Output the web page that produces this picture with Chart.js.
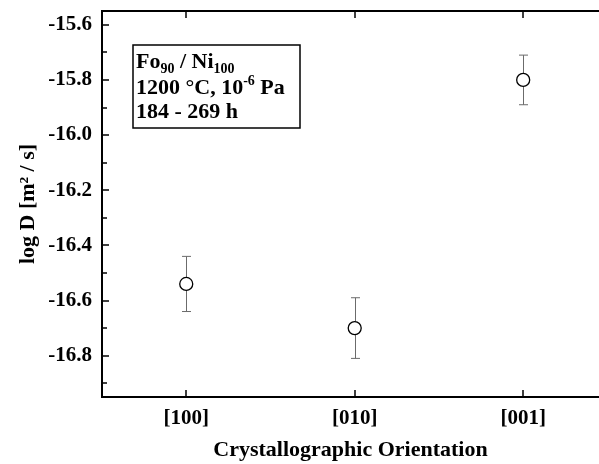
<!DOCTYPE html>
<html>
<head>
<meta charset="utf-8">
<script src="https://cdn.jsdelivr.net/npm/chart.js@4"></script>
<style>
  html, body { margin: 0; padding: 0; background: #fff; overflow: hidden; }
  #wrap { width: 599px; height: 464px; }
</style>
</head>
<body>
<div id="wrap"><canvas id="chart" width="599" height="464"></canvas></div>
<script>
/* data */
const orientations = ["[100]", "[010]", "[001]"];
const logD = [-16.54, -16.70, -15.80];
const logDErr = [0.10, 0.11, 0.09];
const yTicks = [-15.6, -15.8, -16.0, -16.2, -16.4, -16.6, -16.8];
const yMin = -16.95;
const yMax = -15.55;
const xMin = -0.5;
const xMax = 2.45;   // the figure is cut off just right of [001]

const serif = "'Liberation Serif', 'Times New Roman', serif";

/* no automatic label padding: the frame sits where the figure has it */
function noPad(scale) {
  scale.paddingTop = 0;
  scale.paddingBottom = 0;
  scale.paddingLeft = 0;
  scale.paddingRight = 0;
}

/* error bars, drawn through the scales */
const errorBars = {
  id: "errorBars",
  beforeDatasetsDraw(chart) {
    const { ctx, scales: { x, y } } = chart;
    ctx.save();
    ctx.strokeStyle = "#6b6b6b";
    ctx.lineWidth = 1;
    logD.forEach((v, i) => {
      const px = Math.round(x.getPixelForValue(i)) + 0.5;
      const top = y.getPixelForValue(v + logDErr[i]);
      const bot = y.getPixelForValue(v - logDErr[i]);
      ctx.beginPath();
      ctx.moveTo(px, top);
      ctx.lineTo(px, bot);
      ctx.moveTo(px - 4.5, top);
      ctx.lineTo(px + 4.5, top);
      ctx.moveTo(px - 4.5, bot);
      ctx.lineTo(px + 4.5, bot);
      ctx.stroke();
    });
    ctx.restore();
  }
};

/* frame, inward ticks and the text box */
const frame = {
  id: "frame",
  afterDraw(chart) {
    const { ctx, chartArea: a, scales: { x, y } } = chart;
    ctx.save();
    ctx.strokeStyle = "#000";
    ctx.lineWidth = 2;
    ctx.beginPath();
    ctx.moveTo(a.right, a.top);
    ctx.lineTo(a.left, a.top);
    ctx.lineTo(a.left, a.bottom);
    ctx.lineTo(a.right, a.bottom);
    ctx.stroke();

    ctx.lineWidth = 1.5;
    ctx.beginPath();
    yTicks.forEach(v => {
      const py = Math.round(y.getPixelForValue(v));
      ctx.moveTo(a.left, py);
      ctx.lineTo(a.left + 7, py);
      const pm = Math.round(y.getPixelForValue(v - 0.1));
      ctx.moveTo(a.left, pm);
      ctx.lineTo(a.left + 5, pm);
    });
    orientations.forEach((_, i) => {
      const px = Math.round(x.getPixelForValue(i));
      ctx.moveTo(px, a.bottom);
      ctx.lineTo(px, a.bottom - 7);
      ctx.moveTo(px, a.top);
      ctx.lineTo(px, a.top + 7);
    });
    ctx.stroke();

    // annotation box
    const bx = 133, by = 45, bw = 167, bh = 83;
    ctx.lineWidth = 1.5;
    ctx.strokeRect(bx, by, bw, bh);
    ctx.fillStyle = "#000";
    ctx.textBaseline = "alphabetic";
    const big = "bold 22px " + serif;
    const small = "bold 14px " + serif;
    function run(parts, x0, y0) {
      let cx = x0;
      parts.forEach(p => {
        ctx.font = p.sub || p.sup ? small : big;
        const dy = p.sub ? 5 : p.sup ? -9 : 0;
        ctx.fillText(p.t, cx, y0 + dy);
        cx += ctx.measureText(p.t).width;
      });
    }
    run([{ t: "Fo" }, { t: "90", sub: true }, { t: " / Ni" }, { t: "100", sub: true }], bx + 3, by + 23);
    run([{ t: "1200 °C, 10" }, { t: "-6", sup: true }, { t: " Pa" }], bx + 3, by + 49);
    run([{ t: "184 - 269 h" }], bx + 3, by + 73);
    ctx.restore();
  }
};

new Chart(document.getElementById("chart"), {
  type: "scatter",
  data: {
    datasets: [{
      data: logD.map((v, i) => ({ x: i, y: v })),
      showLine: false,
      pointRadius: 6.5,
      pointHoverRadius: 6.5,
      pointBackgroundColor: "#fff",
      pointBorderColor: "#000",
      pointBorderWidth: 1.3
    }]
  },
  options: {
    responsive: false,
    animation: false,
    events: [],
    layout: { autoPadding: false, padding: { top: 11, right: 0, left: 0, bottom: 0 } },
    plugins: {
      legend: { display: false },
      tooltip: { enabled: false }
    },
    scales: {
      x: {
        type: "linear",
        min: xMin,
        max: xMax,
        grid: { display: false, drawTicks: false },
        border: { display: false },
        afterBuildTicks(scale) {
          scale.ticks = orientations.map((_, i) => ({ value: i }));
        },
        ticks: {
          color: "#000",
          padding: 9,
          font: { family: serif, size: 21, weight: "bold" },
          callback: v => orientations[v]
        },
        title: {
          display: true,
          text: "Crystallographic Orientation",
          color: "#000",
          padding: { top: 0, bottom: 0 },
          font: { family: serif, size: 22, weight: "bold" }
        },
        afterFit(scale) { scale.height = 67; noPad(scale); }
      },
      y: {
        min: yMin,
        max: yMax,
        grid: { display: false, drawTicks: false },
        border: { display: false },
        afterBuildTicks(scale) {
          scale.ticks = yTicks.map(v => ({ value: v }));
        },
        ticks: {
          color: "#000",
          padding: 10,
          font: { family: serif, size: 21, weight: "bold" },
          callback: v => v.toFixed(1)
        },
        title: {
          display: true,
          text: "log D [m² / s]",
          color: "#000",
          padding: { top: 15, bottom: 0 },
          font: { family: serif, size: 22, weight: "bold" }
        },
        afterFit(scale) { scale.width = 102; noPad(scale); }
      }
    }
  },
  plugins: [errorBars, frame]
});
</script>
</body>
</html>
